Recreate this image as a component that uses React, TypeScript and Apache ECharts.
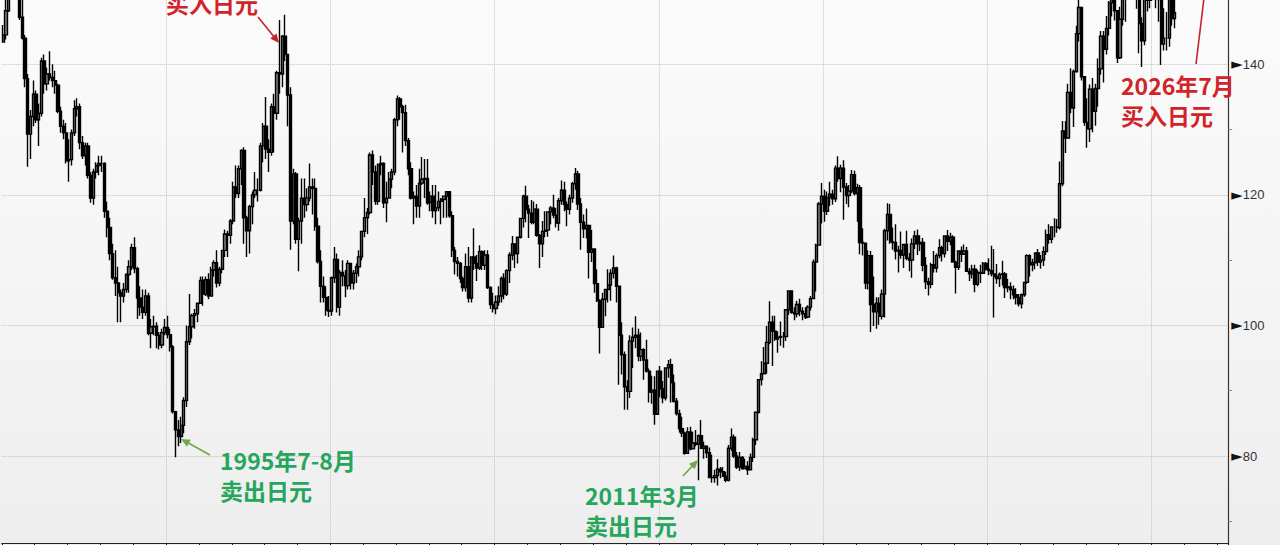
import React, { useEffect, useRef } from "react";
import * as echarts from "echarts";

// USD/JPY monthly bars, Jan 1990 – Sep 2025
const firstOpen = 143.4;
const closes: number[] = [
  // 1990
  144.5, 148.2, 157.6, 158.5, 151.8, 152.8, 147.2, 144.0, 137.8, 129.3, 132.0, 135.4,
  // 1991
  131.5, 132.5, 140.5, 137.0, 138.5, 138.0, 137.5, 136.8, 132.8, 130.5, 129.5, 125.2,
  // 1992
  125.4, 129.5, 133.2, 133.5, 128.0, 126.0, 127.5, 123.0, 119.5, 123.5, 124.5, 124.8,
  // 1993
  124.8, 117.5, 115.0, 111.0, 107.3, 106.5, 105.0, 104.5, 105.5, 107.8, 109.0, 111.9,
  // 1994
  108.7, 104.2, 102.8, 102.0, 104.5, 98.8, 99.8, 99.9, 98.5, 97.0, 98.9, 99.7,
  // 1995
  98.6, 96.7, 86.8, 84.0, 83.0, 84.7, 88.5, 97.5, 99.8, 101.5, 101.8, 103.4,
  // 1996
  106.9, 104.8, 107.0, 104.5, 108.5, 109.6, 106.5, 108.6, 111.5, 114.0, 113.8, 116.0,
  // 1997
  121.2, 120.2, 124.0, 126.8, 116.5, 114.5, 118.2, 120.0, 120.7, 120.7, 127.5, 130.5,
  // 1998
  127.0, 126.5, 133.5, 132.5, 138.7, 138.5, 144.3, 141.5, 135.3, 116.0, 123.2, 113.2,
  // 1999
  116.0, 119.5, 118.5, 119.5, 121.2, 121.0, 115.2, 109.8, 106.0, 104.3, 102.3, 102.2,
  // 2000
  107.3, 110.1, 102.8, 108.1, 107.6, 106.1, 109.5, 106.5, 108.0, 109.0, 110.5, 114.4,
  // 2001
  116.5, 117.3, 126.1, 123.5, 119.0, 124.6, 124.8, 118.8, 119.5, 122.4, 123.5, 131.5,
  // 2002
  134.7, 133.5, 132.6, 128.3, 124.0, 119.5, 119.8, 118.3, 121.8, 122.4, 122.5, 118.8,
  // 2003
  119.8, 117.6, 118.0, 119.0, 119.3, 119.8, 120.5, 116.8, 111.5, 109.8, 109.5, 107.2,
  // 2004
  105.8, 109.0, 104.2, 110.5, 109.5, 108.8, 111.3, 109.2, 110.8, 105.8, 103.2, 102.6,
  // 2005
  103.6, 104.5, 107.2, 104.8, 108.4, 110.8, 112.5, 111.0, 113.5, 116.4, 119.8, 117.8,
  // 2006
  117.2, 115.8, 117.8, 113.8, 112.5, 114.4, 114.6, 117.4, 118.0, 116.9, 115.7, 119.1,
  // 2007
  120.7, 118.5, 117.8, 119.5, 121.7, 123.2, 118.6, 115.8, 114.8, 115.3, 111.2, 111.7,
  // 2008
  106.4, 103.8, 99.7, 104.0, 105.5, 106.2, 108.0, 108.8, 106.0, 98.5, 95.5, 90.6,
  // 2009
  89.9, 97.6, 98.2, 98.5, 95.3, 96.3, 94.7, 93.0, 89.8, 90.1, 86.4, 93.0,
  // 2010
  90.3, 88.9, 93.5, 94.0, 91.2, 88.4, 86.5, 84.2, 83.5, 80.4, 83.7, 81.1,
  // 2011
  82.0, 81.8, 83.1, 81.2, 81.5, 80.5, 76.7, 76.7, 77.0, 78.0, 77.6, 76.9,
  // 2012
  76.3, 81.2, 82.9, 80.0, 78.3, 79.8, 78.1, 78.4, 77.9, 79.8, 82.5, 86.7,
  // 2013
  91.7, 92.6, 94.2, 97.4, 100.5, 99.1, 97.9, 98.2, 98.3, 98.3, 102.4, 105.3,
  // 2014
  102.0, 101.8, 103.2, 102.2, 101.8, 101.3, 102.8, 104.1, 109.7, 112.3, 118.6, 119.8,
  // 2015
  117.5, 119.6, 120.1, 119.4, 124.1, 122.5, 124.1, 121.2, 119.9, 120.6, 123.1, 120.2,
  // 2016
  121.1, 112.7, 112.6, 106.5, 110.7, 103.2, 102.1, 103.4, 101.4, 104.8, 114.5, 117.0,
  // 2017
  112.8, 112.7, 111.4, 111.5, 110.8, 112.4, 110.3, 110.0, 112.5, 113.7, 112.5, 112.7,
  // 2018
  109.2, 106.7, 106.3, 109.3, 108.8, 110.7, 111.9, 111.0, 113.7, 112.9, 113.5, 109.7,
  // 2019
  108.9, 111.4, 110.9, 111.4, 108.3, 107.9, 108.6, 106.3, 108.1, 108.0, 109.5, 108.6,
  // 2020
  108.4, 107.9, 107.5, 107.2, 107.8, 107.9, 105.8, 105.9, 105.5, 104.7, 104.3, 103.3,
  // 2021
  104.7, 106.6, 110.7, 109.3, 109.6, 111.1, 109.7, 110.0, 111.3, 113.9, 113.2, 115.1,
  // 2022
  115.1, 115.0, 121.7, 129.8, 128.7, 135.7, 133.3, 138.9, 144.7, 148.7, 138.1, 131.1,
  // 2023
  130.1, 136.2, 132.8, 136.3, 139.3, 144.3, 142.3, 145.5, 149.4, 151.7, 148.2, 141.0,
  // 2024
  146.9, 150.0, 151.3, 157.8, 157.3, 160.9, 150.0, 146.2, 143.6, 152.0, 149.8, 157.2,
  // 2025
  155.2, 150.6, 149.9, 143.1, 144.0, 144.0, 150.7, 147.0, 147.9,
];
const highs: number[] = [
  146.0, 150.0, 158.5, 160.2, 159.0, 155.5, 153.5, 151.5, 144.5, 138.5, 133.0, 137.5,
  136.0, 134.0, 141.0, 141.5, 139.5, 142.0, 140.0, 139.0, 137.0, 133.5, 131.5, 131.0,
  128.5, 130.0, 134.5, 134.8, 134.0, 129.0, 128.0, 128.0, 123.5, 124.0, 125.0, 126.0,
  126.0, 125.0, 119.0, 116.5, 112.5, 111.5, 109.0, 105.5, 106.5, 108.0, 110.0, 112.5,
  113.5, 109.0, 106.0, 105.5, 105.5, 105.0, 101.0, 101.5, 100.5, 99.0, 99.5, 101.0,
  101.5, 99.5, 97.0, 86.5, 85.5, 86.0, 89.0, 100.0, 104.8, 101.8, 102.5, 103.5,
  107.5, 107.5, 107.5, 108.0, 109.0, 110.0, 111.5, 109.0, 111.5, 114.7, 114.5, 116.3,
  122.0, 124.5, 124.5, 127.0, 127.3, 116.8, 118.5, 120.5, 123.5, 122.5, 128.0, 131.0,
  135.0, 128.5, 134.0, 135.5, 139.0, 146.8, 144.5, 147.6, 141.5, 136.5, 124.0, 123.5,
  116.5, 122.5, 122.5, 121.0, 124.8, 122.5, 122.5, 116.5, 111.5, 107.5, 106.0, 104.5,
  107.5, 112.0, 111.0, 108.5, 110.0, 108.5, 110.0, 109.5, 108.5, 109.5, 111.5, 114.5,
  119.5, 118.0, 126.5, 126.8, 124.5, 124.8, 126.0, 125.0, 122.0, 123.5, 124.0, 131.8,
  135.2, 135.0, 133.8, 133.8, 128.7, 125.0, 120.5, 121.5, 124.0, 125.8, 125.5, 125.5,
  120.5, 121.5, 121.5, 120.5, 119.5, 119.8, 120.5, 120.5, 117.5, 112.0, 110.5, 109.7,
  107.5, 111.0, 112.0, 110.6, 114.9, 110.8, 112.3, 111.5, 111.5, 111.5, 106.0, 105.0,
  104.6, 106.0, 107.5, 108.0, 108.6, 111.2, 113.7, 112.5, 113.6, 116.4, 120.0, 121.4,
  118.5, 119.2, 119.0, 118.6, 114.0, 116.0, 117.5, 117.4, 118.3, 120.0, 118.0, 119.5,
  122.2, 122.0, 119.0, 120.0, 122.0, 124.1, 123.7, 119.5, 117.0, 117.9, 115.4, 114.6,
  109.7, 108.6, 104.0, 105.0, 105.6, 108.6, 108.6, 110.7, 109.0, 106.0, 100.5, 96.0,
  91.6, 98.5, 99.7, 101.4, 99.5, 98.9, 96.5, 97.8, 93.4, 92.3, 92.2, 93.1,
  93.8, 91.5, 93.6, 94.7, 94.9, 92.5, 88.9, 87.1, 86.0, 83.7, 84.4, 84.5,
  83.7, 84.0, 83.3, 85.5, 82.2, 81.5, 81.3, 80.2, 77.9, 79.5, 78.3, 78.3,
  77.6, 81.7, 84.2, 83.3, 80.6, 80.6, 80.0, 79.6, 79.2, 80.4, 82.8, 86.8,
  91.8, 94.5, 96.7, 99.9, 103.7, 101.5, 101.5, 99.1, 100.6, 99.0, 102.5, 105.4,
  105.4, 102.8, 103.8, 104.1, 102.8, 102.8, 103.1, 104.5, 110.1, 112.5, 118.9, 121.8,
  120.8, 120.5, 122.0, 120.8, 124.5, 125.9, 124.6, 125.3, 121.8, 121.5, 123.8, 123.7,
  121.7, 121.5, 114.9, 112.0, 111.5, 111.4, 107.5, 104.3, 104.3, 105.5, 114.8, 118.7,
  118.6, 115.0, 115.5, 112.2, 114.4, 112.5, 114.5, 111.1, 113.3, 114.5, 114.7, 113.8,
  113.4, 110.5, 107.3, 109.6, 111.4, 111.0, 113.2, 112.2, 113.8, 114.6, 114.2, 113.8,
  109.9, 111.5, 112.1, 112.4, 112.0, 108.8, 109.3, 109.3, 108.5, 109.3, 109.7, 109.7,
  110.3, 112.2, 111.7, 109.4, 108.1, 109.9, 108.2, 107.1, 106.6, 106.1, 105.7, 104.8,
  104.9, 106.7, 110.9, 110.9, 110.2, 111.2, 111.7, 110.8, 112.1, 114.7, 115.5, 115.2,
  116.4, 116.3, 125.1, 131.3, 131.3, 137.0, 139.4, 139.2, 145.9, 151.9, 148.8, 138.2,
  134.8, 136.9, 137.9, 137.0, 140.9, 145.1, 145.1, 147.4, 149.7, 151.8, 151.9, 148.3,
  148.8, 150.9, 151.9, 160.2, 157.9, 161.3, 161.9, 150.9, 147.2, 153.9, 156.7, 158.1,
  158.9, 155.9, 151.3, 150.5, 148.6, 148.0, 150.9, 150.9, 149.9,
];
const lows: number[] = [
  143.4, 143.8, 148.0, 155.5, 151.0, 150.5, 146.8, 143.8, 136.5, 124.3, 125.5, 130.5,
  131.0, 127.5, 132.0, 135.5, 136.0, 137.5, 136.5, 135.5, 132.5, 129.5, 128.5, 124.8,
  122.0, 124.5, 129.0, 132.0, 127.0, 125.5, 124.5, 122.5, 118.8, 118.5, 122.5, 123.0,
  123.5, 116.5, 113.5, 110.0, 107.0, 104.5, 100.5, 100.5, 103.5, 105.0, 105.0, 108.5,
  108.0, 101.0, 101.5, 101.0, 101.5, 98.5, 96.5, 98.5, 96.5, 96.3, 96.5, 98.5,
  98.0, 96.0, 86.5, 79.8, 81.5, 82.0, 83.5, 87.5, 97.0, 98.0, 99.5, 100.5,
  103.5, 103.0, 104.5, 104.0, 104.5, 107.5, 105.8, 106.0, 108.0, 110.5, 110.5, 112.5,
  115.5, 119.5, 119.5, 121.5, 112.5, 110.5, 111.0, 115.5, 119.5, 119.0, 120.5, 125.0,
  125.5, 123.5, 126.0, 126.5, 131.5, 135.5, 136.5, 140.5, 130.5, 111.6, 115.5, 112.5,
  108.3, 112.5, 116.5, 117.5, 119.0, 117.0, 114.5, 109.5, 103.5, 103.5, 101.5, 101.3,
  101.5, 106.5, 102.0, 101.5, 106.0, 104.3, 105.5, 105.5, 105.5, 106.5, 107.5, 110.0,
  113.5, 114.0, 117.0, 121.5, 118.5, 118.5, 123.0, 118.0, 115.8, 119.5, 121.0, 123.0,
  130.5, 131.5, 126.5, 127.5, 123.0, 119.3, 115.5, 116.5, 116.5, 121.5, 119.5, 118.5,
  117.5, 116.5, 115.5, 117.5, 115.5, 116.5, 116.5, 116.5, 110.5, 107.8, 107.5, 106.5,
  105.2, 105.2, 103.5, 103.5, 108.5, 106.8, 108.5, 108.5, 108.5, 105.6, 102.5, 102.0,
  101.7, 103.0, 103.5, 104.0, 104.5, 106.5, 110.0, 108.8, 109.5, 113.3, 115.0, 115.8,
  113.4, 115.5, 115.5, 113.6, 108.8, 110.5, 113.5, 113.6, 115.5, 116.4, 115.0, 114.5,
  118.5, 117.5, 115.2, 117.0, 118.8, 120.8, 117.7, 111.6, 113.4, 113.3, 107.2, 109.7,
  105.0, 103.6, 95.7, 99.6, 101.4, 103.5, 103.8, 107.2, 103.5, 90.9, 92.5, 87.1,
  87.1, 88.9, 93.5, 96.5, 94.5, 94.5, 91.7, 92.8, 88.2, 88.0, 84.8, 86.4,
  89.0, 88.1, 88.5, 92.0, 88.2, 88.2, 86.2, 83.6, 82.9, 80.2, 80.3, 80.9,
  81.0, 81.5, 76.3, 81.2, 79.6, 79.7, 76.7, 75.9, 75.9, 75.5, 76.6, 76.9,
  76.0, 76.1, 80.8, 79.7, 78.0, 77.7, 77.9, 78.0, 77.1, 77.9, 79.1, 81.7,
  86.5, 90.8, 92.6, 92.6, 97.1, 93.8, 97.6, 95.8, 96.9, 96.6, 97.6, 101.6,
  101.8, 100.8, 101.2, 101.4, 100.8, 101.0, 101.1, 102.3, 104.0, 105.2, 112.4, 115.6,
  115.9, 116.9, 118.3, 118.5, 118.9, 122.0, 120.4, 116.2, 118.6, 118.1, 120.3, 119.9,
  115.9, 110.9, 110.7, 105.6, 105.5, 99.0, 99.9, 99.5, 100.1, 100.9, 101.2, 113.0,
  112.5, 111.6, 110.1, 108.1, 110.2, 108.8, 110.0, 108.3, 107.3, 111.7, 110.8, 111.4,
  108.3, 105.6, 104.6, 105.7, 108.1, 108.1, 110.3, 109.8, 110.4, 111.4, 112.3, 109.6,
  104.9, 108.5, 109.7, 110.8, 108.3, 106.8, 107.2, 105.1, 106.0, 106.5, 107.9, 108.4,
  107.7, 107.5, 101.2, 106.4, 105.9, 106.1, 104.2, 105.1, 104.0, 104.0, 103.2, 102.9,
  102.6, 104.4, 106.4, 107.5, 108.3, 108.6, 109.1, 108.7, 109.1, 110.8, 112.5, 112.6,
  113.5, 114.2, 114.7, 121.3, 126.4, 128.7, 132.5, 130.4, 138.7, 143.5, 137.5, 130.6,
  127.2, 128.1, 129.6, 130.6, 133.5, 138.4, 137.2, 141.5, 144.4, 147.3, 146.7, 140.2,
  140.8, 145.9, 146.5, 151.0, 151.9, 154.6, 148.5, 141.7, 139.6, 142.9, 148.1, 148.6,
  151.9, 148.6, 146.5, 139.9, 142.1, 142.1, 142.7, 145.9, 145.5,
];

// month categories, Jan 1990 to Apr 2027 (axis runs past the last bar)
const months: string[] = [];
for (let y = 1990; y <= 2027; y++) {
  for (let m = 1; m <= 12; m++) {
    if (months.length < 448) months.push(`${y}-${String(m).padStart(2, "0")}`);
  }
}

const yTickValues = [80, 100, 120, 140];

// the chart canvas is taller than the page; the page shows a window of it
const OFFSET = 70;

type Note = { text: string; x: number; y: number; color: string };
const notes: Note[] = [
  { text: "买入日元", x: 166, y: 3, color: "#d2232a" },
  { text: "1995年7-8月\n卖出日元", x: 220, y: 445, color: "#26a55c" },
  { text: "2011年3月\n卖出日元", x: 585, y: 480, color: "#26a55c" },
  { text: "2026年7月\n买入日元", x: 1121, y: 70, color: "#d2232a" },
];

type Arrow = { from: [number, number]; to: [number, number]; color: string; head: boolean };
const arrows: Arrow[] = [
  { from: [258, 17], to: [279, 43], color: "#c8232a", head: true },
  { from: [210, 455], to: [181, 439], color: "#6fa84c", head: true },
  { from: [683, 476], to: [698, 460], color: "#6fa84c", head: true },
  { from: [1204, -2], to: [1196, 64], color: "#c8232a", head: false },
];

function buildGraphic() {
  const els: any[] = [];
  notes.forEach((n) => {
    els.push({
      type: "text",
      z: 100,
      style: {
        text: n.text,
        x: n.x,
        y: n.y,
        fill: n.color,
        font: 'bold 23px "Noto Sans CJK SC"',
        lineHeight: 30,
        textVerticalAlign: n.text.includes("\n") ? "top" : "middle",
      },
    });
  });
  arrows.forEach((a) => {
    const [x1, y1] = a.from;
    const [x2, y2] = a.to;
    const dx = x2 - x1;
    const dy = y2 - y1;
    const len = Math.hypot(dx, dy);
    const ux = dx / len;
    const uy = dy / len;
    const hl = a.head ? 9 : 0;
    els.push({
      type: "line",
      z: 100,
      shape: { x1, y1, x2: x2 - ux * hl * 0.7, y2: y2 - uy * hl * 0.7 },
      style: { stroke: a.color, lineWidth: 1.6 },
    });
    if (a.head) {
      const bx = x2 - ux * hl;
      const by = y2 - uy * hl;
      const px = -uy * 4;
      const py = ux * 4;
      els.push({
        type: "polygon",
        z: 100,
        shape: { points: [[x2, y2], [bx + px, by + py], [bx - px, by - py]] },
        style: { fill: a.color },
      });
    }
  });
  return [{ type: "group", x: 0, y: OFFSET, children: els }];
}

export default function App() {
  const ref = useRef<HTMLDivElement>(null);
  useEffect(() => {
    if (!ref.current) return;
    const chart = echarts.init(ref.current, null, { renderer: "svg" });
    const data = closes.map((c, i) => {
      const o = i === 0 ? firstOpen : closes[i - 1];
      const lo = Math.min(lows[i], o, c);
      const hi = Math.max(highs[i], o, c);
      return [o, c, lo, hi];
    });
    chart.setOption({
      animation: false,
      grid: [
        { left: 1.8, right: 51.8, top: OFFSET - 66.3, height: 652.9 },
        { left: 1.8, right: 51.8, top: OFFSET + 542, height: 1 },
      ],
      xAxis: [
        {
          type: "category",
          gridIndex: 0,
          data: months,
          boundaryGap: true,
          axisLine: { show: false },
          axisTick: { show: false },
          axisLabel: { show: false },
          splitLine: {
            show: true,
            interval: (i: number) => i > 0 && i % 60 === 0,
            lineStyle: { type: "dotted", color: "#c2c2c2", width: 1 },
          },
        },
        {
          type: "category",
          gridIndex: 1,
          data: months,
          boundaryGap: true,
          axisLine: { show: true, lineStyle: { color: "#222", width: 1.2 } },
          axisTick: {
            show: true,
            interval: (i: number) => i % 12 === 0,
            length: 3,
            lineStyle: { color: "#222" },
          },
          axisLabel: { show: false },
          splitLine: { show: false },
        },
      ],
      yAxis: [
        {
          type: "value",
          gridIndex: 0,
          position: "right",
          min: 60,
          max: 160,
          interval: 20,
          axisLine: { show: true, lineStyle: { color: "#333", width: 1.2 } },
          axisTick: { show: false },
          minorTick: { show: true, splitNumber: 2, length: 4, lineStyle: { color: "#8a8a8a" } },
          splitLine: { show: true, lineStyle: { type: "dotted", color: "#c2c2c2", width: 1 } },
          axisLabel: {
            margin: 3,
            formatter: (v: number) => (yTickValues.includes(v) ? `{w|►}{n|${v}}` : ""),
            rich: {
              w: { fontSize: 15, color: "#111", fontFamily: "DejaVu Sans" },
              n: { fontSize: 13, color: "#333", fontFamily: "Liberation Sans", padding: [0, 0, 0, 0] },
            },
          },
        },
        { type: "value", gridIndex: 1, show: false },
      ],
      series: [
        {
          type: "candlestick",
          xAxisIndex: 0,
          yAxisIndex: 0,
          data,
          barWidth: 2.7,
          itemStyle: {
            color: "#7a7a7a",
            color0: "#000",
            borderColor: "#000",
            borderColor0: "#000",
            borderWidth: 1.4,
          },
        },
      ],
      graphic: buildGraphic(),
    });
    return () => chart.dispose();
  }, []);
  return (
    <div
      ref={ref}
      style={{
        position: "fixed",
        left: 0,
        top: -OFFSET,
        width: 1280,
        height: 660,
        background: "linear-gradient(#fbfbfb 0px, #fbfbfb 70px, #eeeeee 615px, #eeeeee 660px)",
      }}
    />
  );
}
